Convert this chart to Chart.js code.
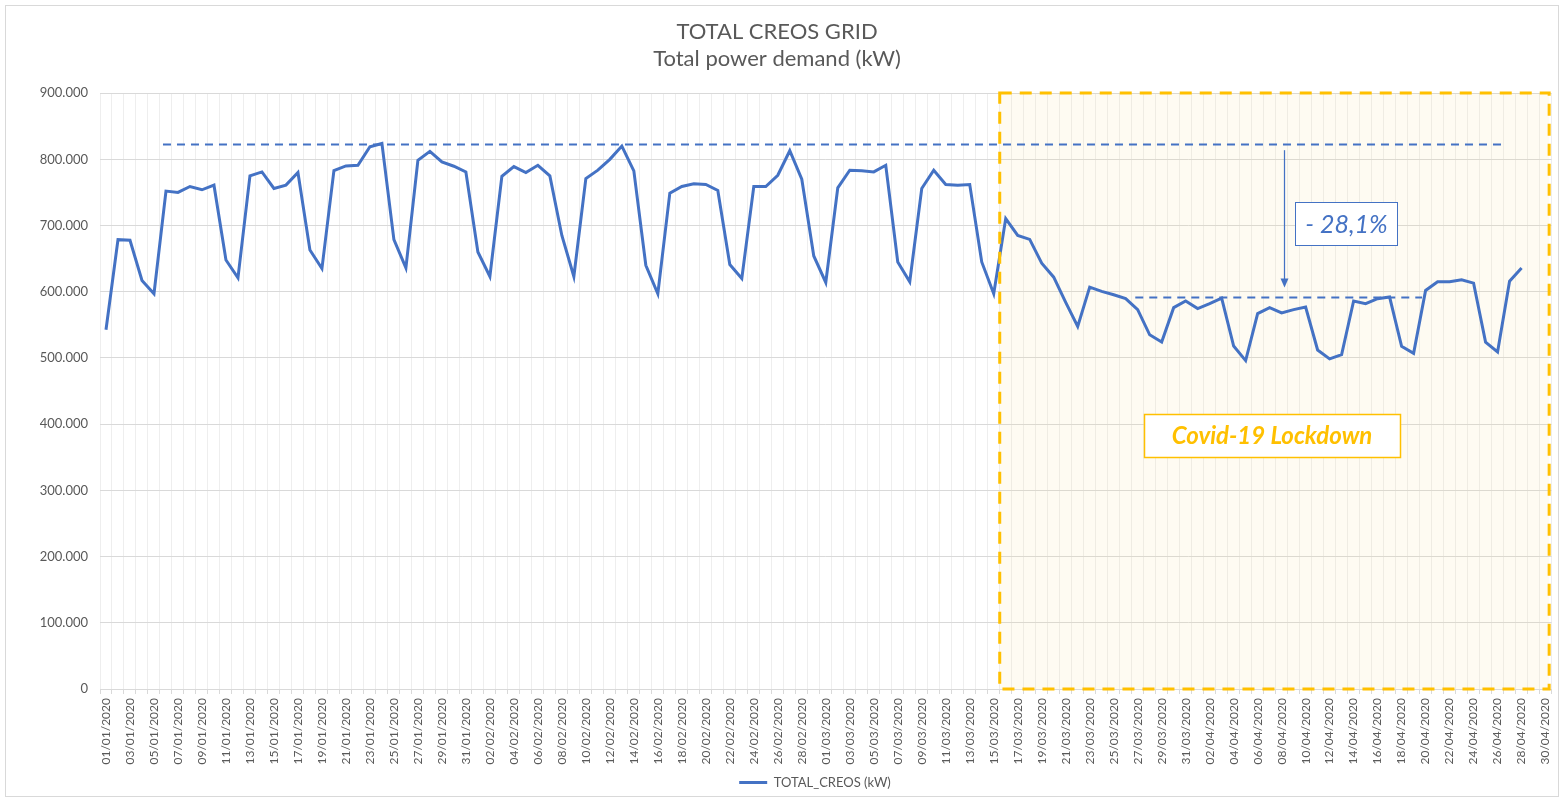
<!DOCTYPE html>
<html>
<head>
<meta charset="utf-8">
<script src="https://cdn.jsdelivr.net/npm/chart.js@4.4.1/dist/chart.umd.min.js"></script>
<style>
html,body{margin:0;padding:0;background:#ffffff;}
canvas{display:block;}
</style>
</head>
<body>
<canvas id="c" width="1564" height="802"></canvas>
<script>
// ---- Categories (daily dates) ----
const janDates = ['01/01/2020','02/01/2020','03/01/2020','04/01/2020','05/01/2020','06/01/2020','07/01/2020','08/01/2020','09/01/2020','10/01/2020','11/01/2020','12/01/2020','13/01/2020','14/01/2020','15/01/2020','16/01/2020','17/01/2020','18/01/2020','19/01/2020','20/01/2020','21/01/2020','22/01/2020','23/01/2020','24/01/2020','25/01/2020','26/01/2020','27/01/2020','28/01/2020','29/01/2020','30/01/2020','31/01/2020'];
const febDates = ['01/02/2020','02/02/2020','03/02/2020','04/02/2020','05/02/2020','06/02/2020','07/02/2020','08/02/2020','09/02/2020','10/02/2020','11/02/2020','12/02/2020','13/02/2020','14/02/2020','15/02/2020','16/02/2020','17/02/2020','18/02/2020','19/02/2020','20/02/2020','21/02/2020','22/02/2020','23/02/2020','24/02/2020','25/02/2020','26/02/2020','27/02/2020','28/02/2020','29/02/2020'];
const marDates = ['01/03/2020','02/03/2020','03/03/2020','04/03/2020','05/03/2020','06/03/2020','07/03/2020','08/03/2020','09/03/2020','10/03/2020','11/03/2020','12/03/2020','13/03/2020','14/03/2020','15/03/2020','16/03/2020','17/03/2020','18/03/2020','19/03/2020','20/03/2020','21/03/2020','22/03/2020','23/03/2020','24/03/2020','25/03/2020','26/03/2020','27/03/2020','28/03/2020','29/03/2020','30/03/2020','31/03/2020'];
const aprDates = ['01/04/2020','02/04/2020','03/04/2020','04/04/2020','05/04/2020','06/04/2020','07/04/2020','08/04/2020','09/04/2020','10/04/2020','11/04/2020','12/04/2020','13/04/2020','14/04/2020','15/04/2020','16/04/2020','17/04/2020','18/04/2020','19/04/2020','20/04/2020','21/04/2020','22/04/2020','23/04/2020','24/04/2020','25/04/2020','26/04/2020','27/04/2020','28/04/2020','29/04/2020','30/04/2020'];

// ---- Series values: TOTAL_CREOS (kW) ----
const janValues = [542600,678700,677700,617000,597000,752000,750000,759000,754000,761000,648000,621000,775000,781000,756000,761000,780000,663000,635000,783000,790000,791000,819000,824000,678700,636000,798600,812000,796000,789600,781000];
const febValues = [660000,623000,774500,789000,780000,791000,775000,685000,623000,771000,783600,800000,820000,782600,640000,597000,749000,759000,763000,762000,753000,641000,620000,759000,759000,776000,813000,770000,654000];
const marValues = [614000,757000,783600,782600,781000,791000,645000,615000,756000,783600,762000,761000,762000,645000,597000,710500,685000,679000,643000,622000,584000,547600,607000,600500,595500,589500,573000,535000,524000,576000,586000];
const aprValues = [574500,582000,590500,518000,496000,567000,576000,568000,573000,577000,512000,498600,505000,586000,582000,589500,592000,517500,507000,602000,615000,615000,618000,613000,524000,509000,616000,636000,null,null];

// ---- Axis ticks ----
const yTicks = [0,100000,200000,300000,400000,500000,600000,700000,800000,900000];

// ---- Annotations (in data space: category index / kW) ----
const lockdownSpan = {xFrom: 74.5, xTo: 120.3, yFrom: 0, yTo: 900000};
const preLevel = {xFrom: 4.75, xTo: 116.6, y: 822800};
const postLevel = {xFrom: 85.8, xTo: 109.7, y: 591400};
const dropArrow = {x: 98.2, yFrom: 813800, yTo: 606600};
const dropLabel = {x: 103.4, y: 702600, text: '- 28,1%'};
const lockdownLabel = {x: 97.2, y: 383400, text: 'Covid-19 Lockdown'};

const labels = [...janDates, ...febDates, ...marDates, ...aprDates];
const values = [...janValues, ...febValues, ...marValues, ...aprValues];

const BLUE = '#4472C4';
const GOLD = '#FFC000';
const GREY = '#595959';

function fmt(v){ return String(v).replace(/\B(?=(\d{3})+(?!\d))/g, '.'); }

const decor = {
  id: 'decor',
  afterLayout(chart){
    // centre the legend under the plot area rather than the full canvas
    if (chart.legend) chart.legend.left += 76;
  },
  beforeDraw(chart){
    const ctx = chart.ctx;
    ctx.save();
    ctx.fillStyle = '#ffffff';
    ctx.fillRect(0,0,chart.width,chart.height);
    ctx.strokeStyle = '#d9d9d9';
    ctx.lineWidth = 1;
    ctx.strokeRect(5.5,5.5,chart.width-11,chart.height-11);
    ctx.restore();
  },
  beforeDatasetsDraw(chart){
    const {ctx, scales:{x,y}} = chart;
    const l = x.getPixelForValue(lockdownSpan.xFrom), r = x.getPixelForValue(lockdownSpan.xTo);
    const t = y.getPixelForValue(lockdownSpan.yTo), b = y.getPixelForValue(lockdownSpan.yFrom);
    ctx.save();
    ctx.fillStyle = 'rgba(245,225,150,0.12)';
    ctx.fillRect(l,t,r-l,b-t);
    ctx.restore();
  },
  afterDatasetsDraw(chart){
    const {ctx, scales:{x,y}} = chart;
    ctx.save();
    const l = x.getPixelForValue(lockdownSpan.xFrom), r = x.getPixelForValue(lockdownSpan.xTo);
    const t = y.getPixelForValue(lockdownSpan.yTo), b = y.getPixelForValue(lockdownSpan.yFrom);
    ctx.strokeStyle = GOLD; ctx.lineWidth = 3; ctx.setLineDash([12,8]);
    ctx.strokeRect(l,t,r-l,b-t);
    ctx.strokeStyle = BLUE; ctx.lineWidth = 2; ctx.setLineDash([8,6]);
    [preLevel, postLevel].forEach(lv => {
      const py = Math.round(y.getPixelForValue(lv.y)) + 0.5;
      ctx.beginPath();
      ctx.moveTo(x.getPixelForValue(lv.xFrom), py);
      ctx.lineTo(x.getPixelForValue(lv.xTo), py);
      ctx.stroke();
    });
    ctx.setLineDash([]);
    const ax = Math.round(x.getPixelForValue(dropArrow.x)) + 0.5;
    const ay1 = y.getPixelForValue(dropArrow.yFrom), ay2 = y.getPixelForValue(dropArrow.yTo);
    ctx.lineWidth = 1.25;
    ctx.beginPath(); ctx.moveTo(ax, ay1); ctx.lineTo(ax, ay2 - 8); ctx.stroke();
    ctx.fillStyle = BLUE;
    ctx.beginPath(); ctx.moveTo(ax - 4, ay2 - 9); ctx.lineTo(ax + 4, ay2 - 9); ctx.lineTo(ax, ay2); ctx.closePath(); ctx.fill();
    const drawBox = (lab, w, h, color, font, lw) => {
      const cx = x.getPixelForValue(lab.x), cy = y.getPixelForValue(lab.y);
      const bx = Math.round(cx - w/2) + 0.5, by = Math.round(cy - h/2) + 0.5;
      ctx.fillStyle = '#ffffff';
      ctx.fillRect(bx, by, w, h);
      ctx.strokeStyle = color; ctx.lineWidth = lw;
      ctx.strokeRect(bx, by, w, h);
      ctx.fillStyle = color; ctx.font = font;
      ctx.textAlign = 'center'; ctx.textBaseline = 'middle';
      ctx.fillText(lab.text, cx, cy + 1);
    };
    drawBox(dropLabel, 102, 43, BLUE, 'italic 25px Lato', 1);
    drawBox(lockdownLabel, 256, 43, GOLD, 'italic bold 24px Lato', 1.5);
    ctx.restore();
  }
};

new Chart(document.getElementById('c'), {
  type: 'line',
  data: {
    labels: labels,
    datasets: [{
      label: 'TOTAL_CREOS (kW)',
      data: values,
      borderColor: BLUE,
      backgroundColor: BLUE,
      borderWidth: 3,
      pointRadius: 0,
      pointHoverRadius: 0,
      pointStyle: 'line',
      tension: 0,
      spanGaps: false
    }]
  },
  options: {
    responsive: false,
    animation: false,
    devicePixelRatio: 1,
    layout: {padding: {left: 0, right: 10, top: 0, bottom: 3}},
    plugins: {
      title: {
        display: true,
        text: ['TOTAL CREOS GRID', 'Total power demand (kW)'],
        color: GREY,
        font: {family: 'Lato', size: 22, weight: 'normal', lineHeight: 1.23},
        padding: {top: 18, bottom: 21}
      },
      legend: {
        position: 'bottom',
        labels: {
          usePointStyle: true,
          pointStyleWidth: 28,
          boxWidth: 28,
          boxHeight: 12,
          color: GREY,
          font: {family: 'Lato', size: 13},
          padding: 10
        }
      },
      tooltip: {enabled: false}
    },
    scales: {
      x: {
        offset: true,
        grid: {offset: true, color: '#eeeeee', tickLength: 5, tickColor: '#d9d9d9'},
        border: {color: '#d9d9d9'},
        ticks: {
          autoSkip: false, maxRotation: 90, minRotation: 90,
          color: GREY, font: {family: 'Lato', size: 12}, padding: 4,
          callback: function(v, i){ return i % 2 === 0 ? this.getLabelForValue(v) : ''; }
        },
        afterFit(s){ s.height = 77; }
      },
      y: {
        min: 0, max: 900000,
        afterBuildTicks(s){ s.ticks = yTicks.map(v => ({value: v})); },
        ticks: {color: GREY, font: {family: 'Lato', size: 13}, padding: 12, callback: v => fmt(v)},
        grid: {color: '#d9d9d9', drawTicks: false},
        border: {display: false},
        afterFit(s){ s.width = 100; }
      }
    }
  },
  plugins: [decor]
});
</script>
</body>
</html>
